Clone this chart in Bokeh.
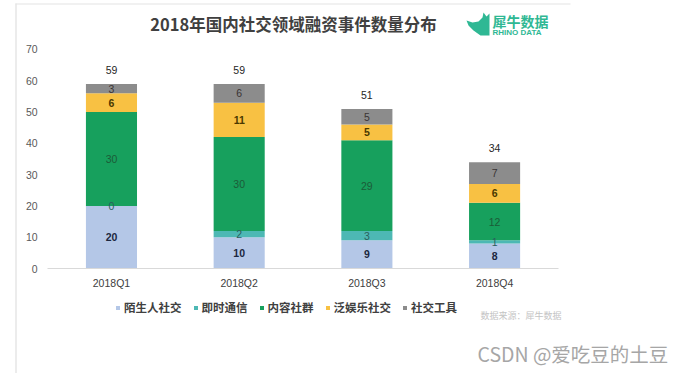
from bokeh.plotting import figure
from bokeh.models import (ColumnDataSource, Range1d, FixedTicker, LabelSet, Label,
                          Legend, LegendItem, BoxAnnotation, PolyAnnotation)
from bokeh.embed import file_html
from bokeh.resources import INLINE
from bokeh.core.properties import value

# ---------------- data ----------------
quarters = ["2018Q1", "2018Q2", "2018Q3", "2018Q4"]
series = ["陌生人社交", "即时通信", "内容社群", "泛娱乐社交", "社交工具"]
strangers = [20, 10, 9, 8]
instant_msg = [0, 2, 3, 1]
content = [30, 30, 29, 12]
entertainment = [6, 11, 5, 6]
tools = [3, 6, 5, 7]
y_ticks = [0, 10, 20, 30, 40, 50, 60, 70]
title_text = "2018年国内社交领域融资事件数量分布"
logo_cn = "犀牛数据"
logo_en = "RHINO DATA"
source_note = "数据来源：犀牛数据"
watermark = "CSDN @爱吃豆的土豆"

# ---------------- styles ----------------
colors = ["#B4C7E7", "#4DB8B4", "#17A05D", "#F8C143", "#8C8C8C"]
label_colors = ["#1c2740", "#2b5f5d", "#1b5c38", "#4a3800", "#3a3434"]
label_bold = [True, False, False, True, False]
LAT = "Liberation Sans"
CJK = "Noto Sans CJK SC"
W, H = 685, 373

values = [strangers, instant_msg, content, entertainment, tools]
keys = ["s%d" % i for i in range(len(series))]
xpos = list(range(len(quarters)))
data = {"x": xpos}
for k, v in zip(keys, values):
    data[k] = v
src = ColumnDataSource(data)

p = figure(x_range=Range1d(-0.869, 4.495), y_range=Range1d(-33.56, 85.66),
           width=W, height=H, output_backend="svg", toolbar_location=None,
           min_border_left=0, min_border_right=0, min_border_top=0, min_border_bottom=0)
p.outline_line_color = None
p.xgrid.visible = False
p.ygrid.visible = False
p.background_fill_color = "white"
p.border_fill_color = "white"

renderers = p.vbar_stack(keys, x="x", width=0.4, color=colors, line_color=None, source=src)

# segment labels
for i, k in enumerate(keys):
    xs, ys, ts = [], [], []
    for j in xpos:
        bottom = sum(values[m][j] for m in range(i))
        xs.append(j)
        ys.append(bottom + values[i][j] / 2)
        ts.append(str(values[i][j]))
    ls = LabelSet(x="x", y="y", text="t", source=ColumnDataSource(dict(x=xs, y=ys, t=ts)),
                  text_align="center", text_baseline="middle",
                  text_font=value(LAT), text_font_size="10.5px",
                  text_font_style="bold" if label_bold[i] else "normal",
                  text_color=label_colors[i])
    p.add_layout(ls)

totals = [sum(v[j] for v in values) for j in xpos]
tl = LabelSet(x="x", y="y", text="t",
              source=ColumnDataSource(dict(x=xpos, y=totals, t=[str(t) for t in totals])),
              text_align="center", text_baseline="middle", y_offset=14,
              text_font=value(LAT), text_font_size="10.5px", text_color="#262626")
p.add_layout(tl)

# axes (kept at fixed data locations inside the frame)
xa = p.xaxis[0]
xa.fixed_location = 0
xa.bounds = (-0.5, 3.5)
xa.ticker = FixedTicker(ticks=xpos)
xa.major_label_overrides = {j: q for j, q in zip(xpos, quarters)}
xa.axis_line_color = "#d9d9d9"
xa.major_tick_line_color = None
xa.minor_tick_line_color = None
xa.major_tick_out = 0
xa.major_tick_in = 0
xa.major_label_standoff = 8
xa.major_label_text_font = LAT
xa.major_label_text_font_size = "10.5px"
xa.major_label_text_color = "#404040"

ya = p.yaxis[0]
ya.fixed_location = -0.5
ya.ticker = FixedTicker(ticks=y_ticks)
ya.axis_line_color = None
ya.major_tick_line_color = None
ya.minor_tick_line_color = None
ya.major_tick_out = 0
ya.major_tick_in = 0
ya.major_label_standoff = 10
ya.major_label_text_font = LAT
ya.major_label_text_font_size = "10.5px"
ya.major_label_text_color = "#595959"

# legend
items = [LegendItem(label=s, renderers=[r]) for s, r in zip(series, renderers)]
legend = Legend(items=items, orientation="horizontal", location=(115, 58),
                glyph_width=5, glyph_height=5, label_standoff=4, spacing=11,
                padding=0, margin=0, border_line_color=None, background_fill_alpha=0,
                label_text_font=CJK, label_text_font_size="11.5px", label_text_font_style="bold",
                label_text_color="#404040", label_height=14)
p.add_layout(legend)

# title and decorations (screen units, origin at bottom-left of the canvas)
p.add_layout(Label(x=293, y=350, x_units="screen", y_units="screen", text=title_text,
                   text_align="center", text_baseline="middle", text_font=CJK,
                   text_font_size="16.5px", text_font_style="bold", text_color="#404040"))
p.add_layout(PolyAnnotation(xs=[466, 472, 478, 482, 483, 486, 489, 489, 480, 473, 468],
                            ys=[353, 351, 352, 356, 361, 357, 360, 338, 338, 343, 348],
                            xs_units="screen", ys_units="screen",
                            fill_color="#2FB894", fill_alpha=1, line_color=None))
p.add_layout(Label(x=492, y=352.5, x_units="screen", y_units="screen", text=logo_cn,
                   text_align="left", text_baseline="middle", text_font=CJK,
                   text_font_size="14px", text_font_style="bold", text_color="#2FB894"))
p.add_layout(Label(x=492, y=341.5, x_units="screen", y_units="screen", text=logo_en,
                   text_align="left", text_baseline="middle", text_font=LAT,
                   text_font_size="8px", text_font_style="bold", text_color="#2FB894"))
p.add_layout(Label(x=480, y=58, x_units="screen", y_units="screen", text=source_note,
                   text_align="left", text_baseline="middle", text_font=CJK,
                   text_font_size="9px", text_color="#c4c4c4"))
p.add_layout(Label(x=477, y=20.5, x_units="screen", y_units="screen", text=watermark,
                   text_align="left", text_baseline="middle", text_font=CJK,
                   text_font_size="19.5px", text_color="#a6a6a6"))
# page frame lines
p.add_layout(BoxAnnotation(left=15, right=16, bottom=0, top=370,
                           left_units="screen", right_units="screen",
                           bottom_units="screen", top_units="screen",
                           fill_color="#d9d9d9", fill_alpha=1, line_color=None))
p.add_layout(BoxAnnotation(left=15, right=570, bottom=369, top=370,
                           left_units="screen", right_units="screen",
                           bottom_units="screen", top_units="screen",
                           fill_color="#e3e3e3", fill_alpha=1, line_color=None))

open("out.html", "w").write(file_html(p, INLINE))
